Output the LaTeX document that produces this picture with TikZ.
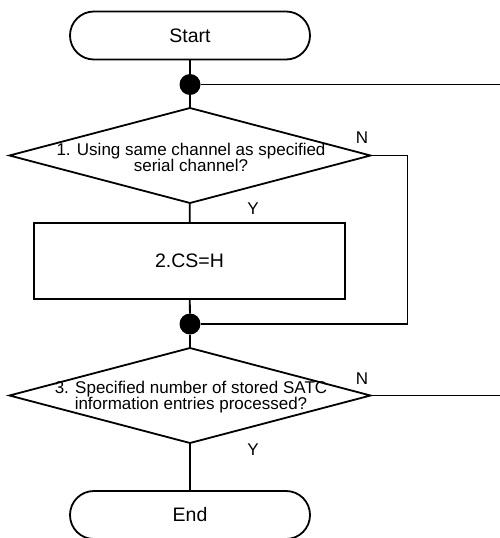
\documentclass[tikz,border=0pt]{standalone}
\usepackage{fontspec}
\setmainfont{Liberation Sans}
\usetikzlibrary{shapes.geometric}
\begin{document}
\begin{tikzpicture}[x=1pt,y=-1pt,
  line width=1.8pt,
  terminal/.style={draw, rectangle, rounded corners=23.9pt, minimum width=240pt,
    minimum height=48pt, inner sep=0pt, font=\fontsize{19.5}{22}\selectfont},
  process/.style={draw, rectangle, minimum width=311pt, minimum height=76pt,
    inner sep=0pt, font=\fontsize{19.5}{22}\selectfont},
  decision/.style={draw, diamond, minimum width=361pt, minimum height=95pt,
    inner sep=0pt, outer sep=0pt},
  qtext/.style={align=center, font=\fontsize{17}{16}\selectfont, inner sep=0pt},
  junction/.style={circle, fill=black, minimum size=21pt, inner sep=0pt, outer sep=0pt},
  branch/.style={font=\fontsize{17}{20}\selectfont, inner sep=0pt},
]
\useasboundingbox (0,0) rectangle (499,538);

% shapes
\node[terminal] (start) at (190,35.5) {Start};
\node[junction] (dot1) at (190,84.5) {};
\node[decision] (q1) at (190,155.5) {};
\node[qtext] (q1t) at (191,157) {1. Using same channel as specified\\serial channel?};
\node[process] (act) at (189.5,261) {2.CS=H};
\node[junction] (dot2) at (190,324) {};
\node[decision] (q3) at (190,395.5) {};
\node[qtext] (q3t) at (191,397) {3. Specified number of stored SATC\\information entries processed?};
\node[terminal] (end) at (190,515) {End};

% open ends at the right margin
\coordinate (exit1) at (500,84.5);
\coordinate (exit3) at (500,395.5);

% connectors
\draw (start) -- (dot1);
\draw (dot1) -- (q1);
\draw (dot1) -- (exit1);
\draw (q1) -- (act);
\draw (act) -- (dot2);
\draw (q1.east) -- ++(37,0) |- (dot2);
\draw (dot2) -- (q3);
\draw (q3.east) -- (exit3);
\draw (q3) -- (end);

% branch labels
\node[branch] (n1) at (362,138) {N};
\node[branch] (y1) at (253,209) {Y};
\node[branch] (n3) at (362,379) {N};
\node[branch] (y3) at (253,450) {Y};
\end{tikzpicture}
\end{document}
